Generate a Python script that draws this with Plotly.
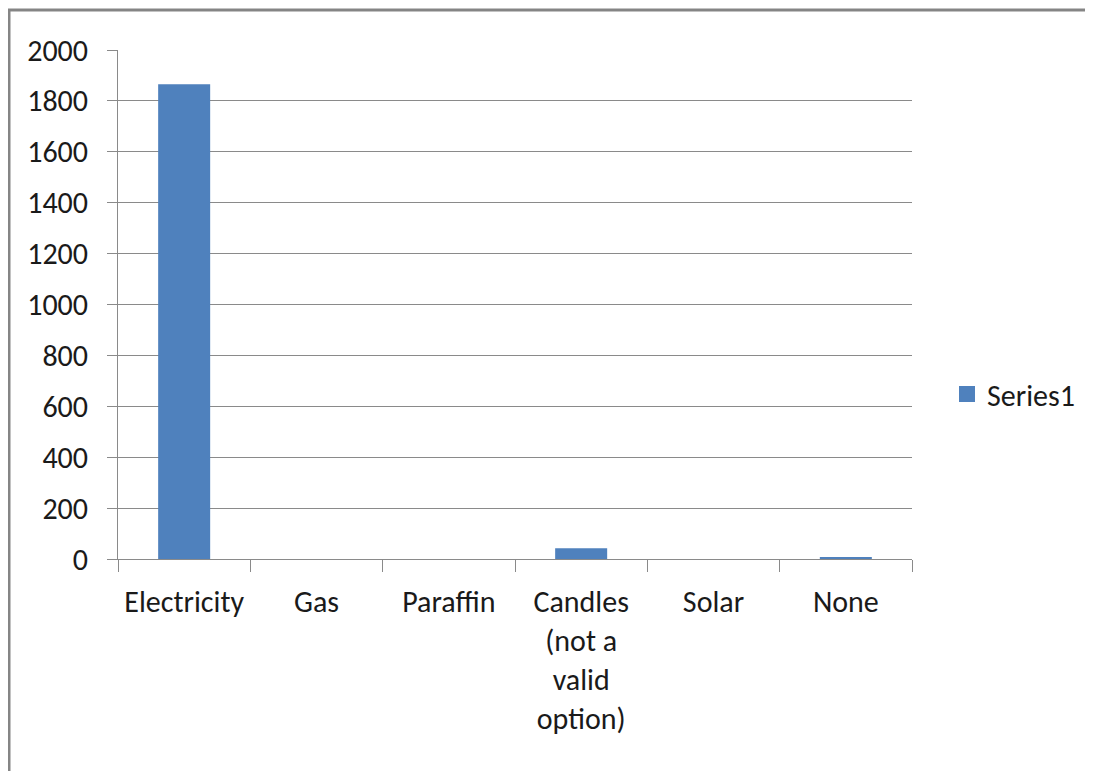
import plotly.graph_objects as go

categories = ["Electricity", "Gas", "Paraffin", "Candles<br>(not a<br>valid<br>option)", "Solar", "None"]
values = [1865, 0, 0, 42, 0, 8]
series_name = "Series1"
y_ticks = [0, 200, 400, 600, 800, 1000, 1200, 1400, 1600, 1800, 2000]

W, H = 1093, 771
OFF = 8  # page body margin offset
L, R, T, B = 118 - OFF, 181 + OFF, 50 - OFF, 212 + OFF
BAR = "#4F81BD"
GRID = "#8a8a8a"
FONT = "Carlito, Calibri, Lato, sans-serif"
TXT = "#1a1a1a"

fig = go.Figure()
fig.add_trace(go.Bar(x=categories, y=values, name=series_name, marker_color=BAR,
                     marker_line_width=0, showlegend=False, legendgroup="s"))
fig.add_trace(go.Scatter(x=[None], y=[None], mode="markers", name=series_name,
                         marker=dict(symbol="square", size=16, color=BAR),
                         showlegend=True, legendgroup="s"))

pw, ph = W - L - R, H - T - B
def px(x):  # page pixel -> paper
    return (x - OFF - L) / pw
def py(y):
    return (H - B - (y - OFF)) / ph

shapes = [
    dict(type="line", xref="paper", yref="paper", x0=px(9), x1=px(9), y0=py(9), y1=py(H + 20),
         line=dict(color="#858585", width=3)),
    dict(type="line", xref="paper", yref="paper", x0=px(8), x1=px(W + 20), y0=py(10), y1=py(10),
         line=dict(color="#858585", width=3)),
]

fig.update_layout(
    width=W, height=H,
    margin=dict(l=L, r=R, t=T, b=B),
    paper_bgcolor="white", plot_bgcolor="white",
    font=dict(family=FONT, size=30, color=TXT),
    bargap=0.607,
    showlegend=True,
    legend=dict(x=px(947), xanchor="left", y=py(394), yanchor="middle",
                font=dict(size=30, color=TXT), bgcolor="rgba(0,0,0,0)", borderwidth=0),
    shapes=shapes,
    xaxis=dict(type="category", showline=True, linecolor=GRID, linewidth=1,
               ticks="outside", tickson="boundaries", ticklen=12, tickcolor=GRID,
               tickwidth=1, showgrid=False, tickangle=0, ticklabelstandoff=16,
               tickfont=dict(size=30, color=TXT)),
    yaxis=dict(range=[0, 2000], tickvals=y_ticks, showline=True, linecolor=GRID,
               linewidth=1, ticks="outside", ticklen=10, tickcolor=GRID, tickwidth=1,
               showgrid=True, gridcolor=GRID, gridwidth=1, zeroline=False,
               ticklabelstandoff=13, tickfont=dict(size=30, color=TXT)),
)

fig.write_html("out.html")
